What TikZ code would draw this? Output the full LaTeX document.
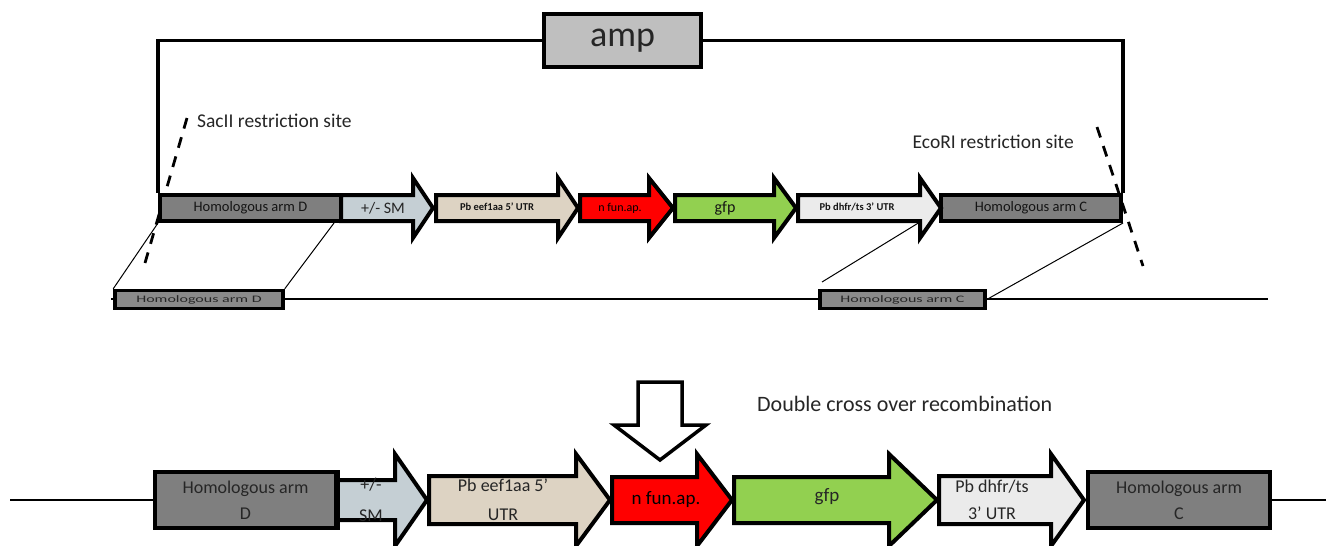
\documentclass[tikz,border=0pt]{standalone}
\usepackage{fontspec}
\setmainfont{Carlito}
\newcommand{\setfs}[2][1.2]{\fontsize{#2}{#1\dimexpr #2pt\relax}\selectfont}
\definecolor{armgray}{HTML}{7F7F7F}
\definecolor{lowgray}{HTML}{8A8A8A}
\definecolor{ampgray}{HTML}{BFBFBF}
\definecolor{smblue}{HTML}{C5CFD4}
\definecolor{beige}{HTML}{DDD3C3}
\definecolor{gfpgreen}{HTML}{92D050}
\definecolor{utrgray}{HTML}{EBEBEB}
\definecolor{labelgray}{HTML}{262626}
\definecolor{darklabel}{HTML}{141414}
% gene arrow: name, left x, head base x, tip x, centre y, half body, half head, fill
\newcommand{\genearrow}[8]{%
  \filldraw[gene, fill=#8] (#2,{#5-#6}) -- (#3,{#5-#6}) -- (#3,{#5-#7}) -- (#4,#5)
    -- (#3,{#5+#7}) -- (#3,{#5+#6}) -- (#2,{#5+#6}) -- cycle;
  \coordinate (#1) at ({(#2+#3)/2},#5);}
\begin{document}
\begin{tikzpicture}[x=1pt,y=-1pt,
  gene/.style={draw=black, line width=4pt, line join=miter},
  armbox/.style={draw=black, line width=4pt, fill=armgray, inner sep=0pt, text=labelgray, align=center},
  lowbox/.style={draw=black, line width=3.5pt, fill=lowgray, inner sep=0pt, text=labelgray},
  ampbox/.style={draw=black, line width=4pt, fill=ampgray, inner sep=0pt, text=labelgray},
  backbone/.style={draw=black, line width=3.5pt},
  cutline/.style={draw=black, line width=2.8pt, dash pattern=on 11pt off 9pt},
  thin/.style={draw=black, line width=1pt},
  lbl/.style={inner sep=0pt, text=labelgray, align=center},
]
\useasboundingbox[fill=white] (0,0) rectangle (1326,546);

% ---------- donor plasmid ----------
\coordinate (sac1) at (187,118);
\coordinate (sac2) at (145,263);
\coordinate (eco1) at (1097,127);
\coordinate (eco2) at (1143,266);
\draw[cutline] (sac1) -- (sac2);
\draw[cutline] (eco1) -- (eco2);

\node[lbl, anchor=west, font={\setfs{19.5}}] (sacII) at (197,121) {SacII restriction site};
\node[lbl, anchor=east, font={\setfs{19.5}}] (ecoRI) at (1074,142) {EcoRI restriction site};

% target locus in the genome
\coordinate (g0) at (111,299);
\coordinate (g1) at (1268,299);
\draw[black, line width=1.3pt] (g0) -- (g1);

\node[armbox, text=darklabel, minimum width=181pt, minimum height=26pt, font={\setfs{14.5}}] (armD) at (250.5,208)
  {Homologous arm D};
\node[armbox, text=darklabel, minimum width=180pt, minimum height=26pt, font={\setfs{14.5}}] (armC) at (1031,208)
  {Homologous arm C};

\genearrow{sm}{341}{413}{433}{208}{13}{30}{smblue}
\genearrow{eef}{436}{558}{578}{208}{13}{30}{beige}
\genearrow{fun}{580}{649}{673}{208}{13}{30}{red}
\genearrow{gfp}{675}{774}{796}{208}{13}{30}{gfpgreen}
\genearrow{dhfr}{798}{920}{941}{208}{13}{30}{utrgray}

\node[lbl, font={\setfs{16}}] at (383,208) {+/- SM};
\node[lbl, text=darklabel, font={\setfs{10.5}\bfseries}] at (497,207) {Pb eef1aa 5' UTR};
\node[lbl, text=black, font={\setfs{12}}] at (620,208) {n fun.ap.};
\node[lbl, text=darklabel, font={\setfs{16}}] at (725,208) {gfp};
\node[lbl, text=darklabel, font={\setfs{10.5}\bfseries}] at (857,207) {Pb dhfr/ts 3' UTR};

\node[ampbox, minimum width=157pt, minimum height=53pt, font={\setfs{36}}] (amp) at (622.5,40.5)
  {amp};
\draw[backbone] (amp.west) -| (armD.north west);
\draw[backbone] (amp.east) -| (armC.north east);

\node[lowbox, minimum width=168pt, minimum height=18pt] (lowD) at (199,299.5)
  {\scalebox{1}[0.62]{\setfs{16}Homologous arm D}};
\node[lowbox, minimum width=165pt, minimum height=18pt] (lowC) at (902.5,299.5)
  {\scalebox{1}[0.62]{\setfs{16}Homologous arm C}};

% crossover alignment of the homologous arms
\draw[thin] (armD.south west) -- (lowD.north west);
\draw[thin] ([xshift=-9pt]armD.south east) -- (lowD.north east);
\coordinate (dhfrfoot) at (920,222);
\coordinate (lowCtop) at (822,282);
\draw[thin] (dhfrfoot) -- (lowCtop);
\draw[thin] (armC.south east) -- (lowC.east);

% ---------- recombination ----------
\filldraw[draw=black, fill=white, line width=3.5pt, line join=miter]
  (638,382) -- (682,382) -- (682,425) -- (706,425) -- (660,460) -- (614,425) -- (638,425) -- cycle;
\node[lbl, anchor=west, font={\setfs{22}}] (dco) at (757,404) {Double cross over recombination};

% ---------- recombined locus ----------
\node[armbox, minimum width=181pt, minimum height=56pt, font={\setfs[1.45]{18}}] (armD2) at (245.5,500)
  {Homologous arm\\D};
\node[armbox, minimum width=182pt, minimum height=56pt, font={\setfs[1.45]{18}}] (armC2) at (1179,500)
  {Homologous arm\\C};
\coordinate (b0) at (10,500);
\coordinate (b1) at (1326,500);
\draw[black, line width=1.3pt] (b0) -- (armD2.west);
\draw[black, line width=1.3pt] (armC2.east) -- (b1);

\genearrow{sm2}{336}{395}{427}{500}{20}{46}{smblue}
\genearrow{eef2}{429}{576}{610}{500}{24}{46}{beige}
\genearrow{fun2}{612}{697}{732}{500}{23}{46}{red}
\genearrow{gfp2}{734}{889}{937}{500}{23}{46}{gfpgreen}
\genearrow{dhfr2}{939}{1051}{1084}{500}{24}{46}{utrgray}
% arm D border drawn again over the SM arrow
\draw[black, line width=4pt] (armD2.north east) -- (armD2.south east);

\node[lbl, font={\setfs[1.75]{18}}] at (371,500) {+/-\\SM};
\node[lbl, font={\setfs[1.6]{18}}] at (503,500) {Pb eef1aa 5'\\UTR};
\node[lbl, text=black, font={\setfs{19}}] at (666,500) {n fun.ap.};
\node[lbl, font={\setfs{19}}] at (827,497) {gfp};
\node[lbl, font={\setfs[1.5]{18}}] at (992,500) {Pb dhfr/ts\\3' UTR};
\end{tikzpicture}
\end{document}
